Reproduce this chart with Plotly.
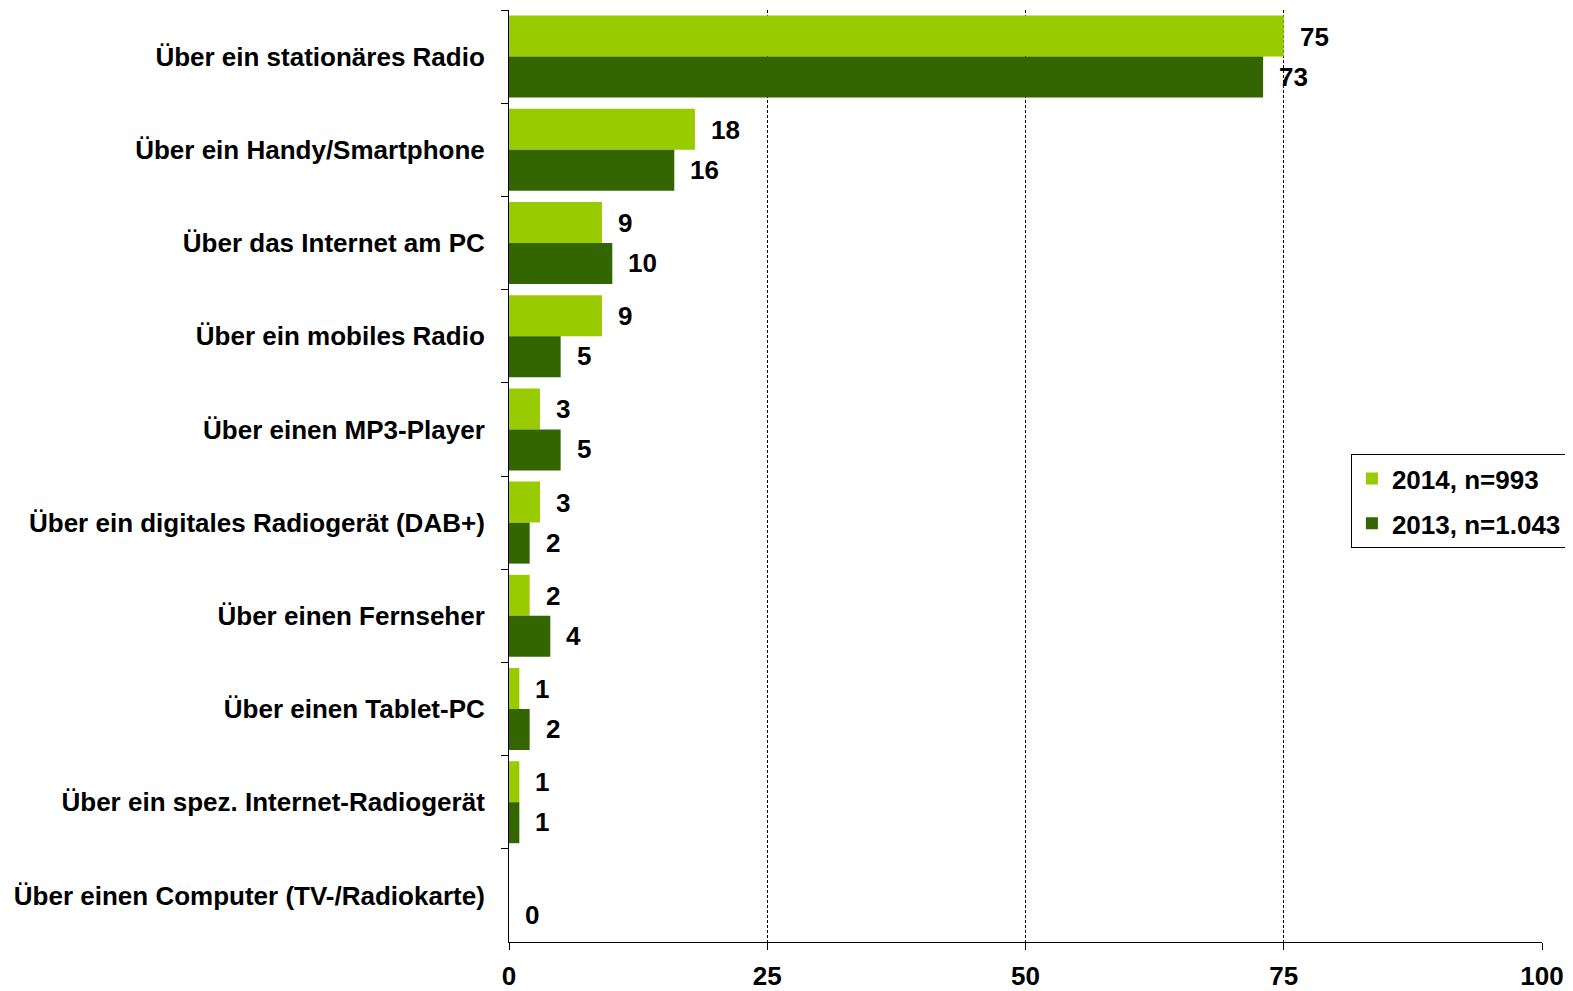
import plotly.graph_objects as go

categories = [
    "Über ein stationäres Radio",
    "Über ein Handy/Smartphone",
    "Über das Internet am PC",
    "Über ein mobiles Radio",
    "Über einen MP3-Player",
    "Über ein digitales Radiogerät (DAB+)",
    "Über einen Fernseher",
    "Über einen Tablet-PC",
    "Über ein spez. Internet-Radiogerät",
    "Über einen Computer (TV-/Radiokarte)",
]
values_2014 = [75, 18, 9, 9, 3, 3, 2, 1, 1, None]
values_2013 = [73, 16, 10, 5, 5, 2, 4, 2, 1, 0]
series_names = ["2014, n=993", "2013, n=1.043"]
x_ticks = [0, 25, 50, 75, 100]

FONT = "Liberation Sans, Arial, sans-serif"
bold = dict(family=FONT, size=26, color="#000000", weight="bold")

fig = go.Figure()
fig.add_trace(go.Bar(y=categories, x=values_2014, orientation="h", name=series_names[0],
                     legendgroup="a", marker=dict(color="#99CC00", line=dict(width=0))))
fig.add_trace(go.Bar(y=categories, x=values_2013, orientation="h", name=series_names[1],
                     legendgroup="b", marker=dict(color="#336600", line=dict(width=0))))

# value labels, pushed a bit right of the bar end
for vals, shift in [(values_2014, 20), (values_2013, -20)]:
    for cat, v in zip(categories, vals):
        if v is None:
            continue
        fig.add_annotation(x=v, y=cat, text=str(v), showarrow=False,
                           xanchor="left", xshift=14, yshift=shift, font=bold)

# page body adds an 8px offset, margins compensate
fig.update_layout(
    width=1573, height=991,
    margin=dict(l=501, r=39, t=2, b=57),
    paper_bgcolor="white", plot_bgcolor="white",
    barmode="group", bargap=0.12, bargroupgap=0,
    font=bold,
    showlegend=True,
    legend=dict(x=0.815, y=0.473, xanchor="left", yanchor="middle",
                bgcolor="white", bordercolor="#000000", borderwidth=1,
                font=bold, traceorder="grouped", itemwidth=30,
                tracegroupgap=8),
)
fig.update_xaxes(
    range=[0, 100], tickvals=x_ticks, showline=True, linecolor="#000000", linewidth=1,
    ticks="outside", ticklen=7, tickcolor="#000000",
    showgrid=True, gridcolor="#000000", gridwidth=1, griddash="3px,2px",
    zeroline=False, tickfont=bold, automargin=False, ticklabelstandoff=4,
)
fig.update_yaxes(
    autorange="reversed", showline=True, linecolor="#000000", linewidth=1,
    ticks="outside", ticklen=7, tickcolor="#000000", tickson="boundaries",
    ticklabelstandoff=18, showgrid=False, tickfont=bold, automargin=False,
)

fig.write_html("out.html")
